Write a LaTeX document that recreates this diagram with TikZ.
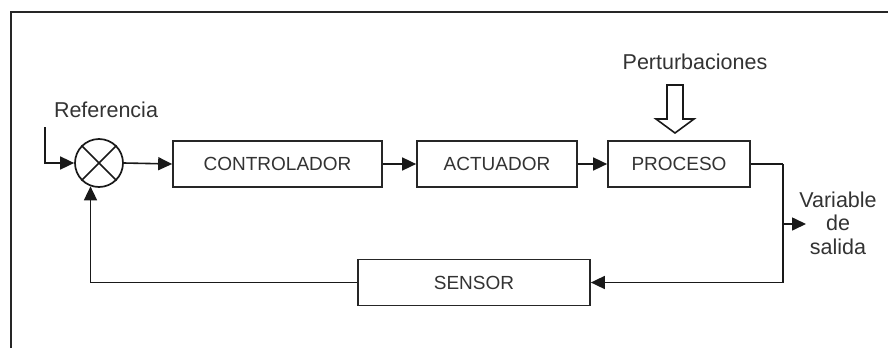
\documentclass[tikz,border=0pt]{standalone}
\usepackage{fontspec}
\setmainfont{Liberation Sans}
\usetikzlibrary{arrows.meta,calc}
\begin{document}
\begin{tikzpicture}[x=1pt,y=-1pt,
  blk/.style={draw=black!85,line width=1.7pt,fill=white,minimum height=46pt,inner sep=0pt,
    font=\fontsize{19}{23}\selectfont,text=black!80},
  lbl/.style={font=\fontsize{21.5}{23.5}\selectfont,text=black!80,inner sep=0pt,align=center},
  con/.style={draw=black!90,line width=1.6pt},
  arr/.style={con,-{Triangle[length=14pt,width=13pt]}}]
\useasboundingbox (0,0) rectangle (888,348);
\draw[line width=2pt,black!85] (11,348) -- (11,12) -- (888,12);
% nodes
\node[draw=black!90,line width=1.7pt,circle,minimum size=48pt,inner sep=0pt] (sum) at (99,163) {};
\draw[line width=1.5pt,black!90] (sum.45) -- (sum.225) (sum.135) -- (sum.315);
\node[blk,minimum width=209pt] (ctl) at (277.5,164) {CONTROLADOR};
\node[blk,minimum width=160pt] (act) at (497,164) {ACTUADOR};
\node[blk,minimum width=142pt] (proc) at (679,164) {PROCESO};
\node[blk,minimum width=232pt] (sens) at (474,282.5) {SENSOR};
\node[lbl] (ref) at (106,110) {Referencia};
\node[lbl] (pert) at (695,62) {Perturbaciones};
\node[lbl] (out) at (838,223) {Variable\\de\\salida};
\coordinate (refin) at (45,127);
\coordinate (corner) at (783,164);
\coordinate (branch) at (783,224);
\coordinate (outend) at (806,224);
% connectors
\draw[arr] (refin) |- (sum.west);
\draw[arr] (sum.east) -- (ctl.west);
\draw[arr] (ctl.east) -- (act.west);
\draw[arr] (act.east) -- (proc.west);
\draw[con] (proc.east) -- (corner);
\draw[arr] (corner) |- (sens.east);
\draw[arr] (branch) -- (outend);
\draw[arr] (sens.west) -| (sum.250);
% disturbance block arrow
\draw[line width=1.6pt,black!90,fill=white,line join=miter]
  (667,85) -- (683,85) -- (683,119) -- (694,119) -- (675,133) -- (656,119) -- (667,119) -- cycle;
\end{tikzpicture}
\end{document}
